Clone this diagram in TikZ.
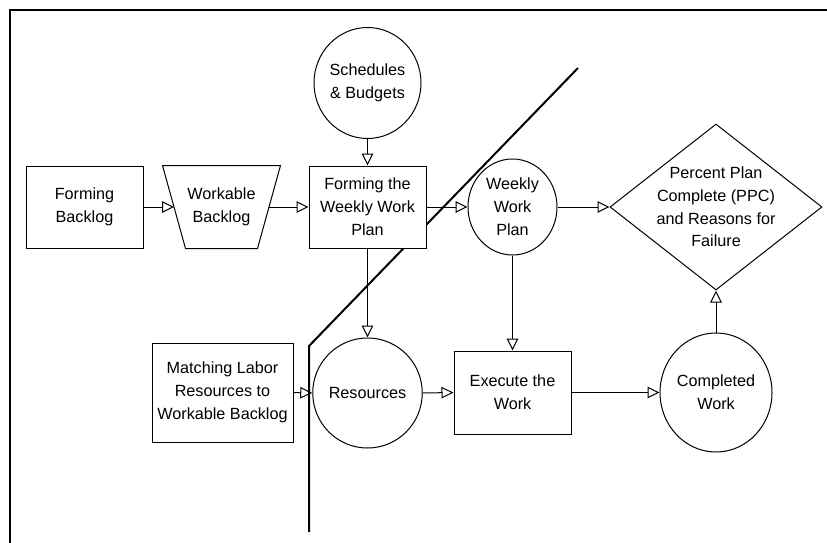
\documentclass[tikz,border=0pt]{standalone}
\usepackage{fontspec}
\setmainfont{Liberation Sans}
\usetikzlibrary{arrows.meta,shapes.geometric}

\begin{document}
\begin{tikzpicture}[x=1pt,y=-1pt,
  every node/.style={font=\fontsize{16.2pt}{22.8pt}\selectfont, align=center,
    draw, line width=1pt, fill=white, inner sep=0pt},
  boxnode/.style={rectangle},
  roundnode/.style={ellipse},
  flow/.style={line width=1pt, -{Triangle[open,length=12pt,width=11.5pt]}},
  divider/.style={line width=2pt}]
\useasboundingbox (0,0) rectangle (827,543);

% outer frame
\draw[divider] (10,543) -- (10,10) -- (827,10);

% dividing line between planning and execution
\coordinate (d1) at (578,68);
\coordinate (d2) at (309,346);
\coordinate (d3) at (309,532);
\draw[divider] (d1) -- (d2) -- (d3);

% nodes
\node[boxnode, minimum width=117pt, minimum height=82pt] (fb) at (84.5,207) {Forming\\Backlog};
% workable backlog: inverted trapezoid; the node spans its mid-width
\node[boxnode, draw=none, fill=none, minimum width=94pt, minimum height=82pt] (wb) at (221.5,207) {};
\draw[line width=1pt, fill=white]
  ([xshift=-11.5pt]wb.north west) -- ([xshift=11.5pt]wb.north east) --
  ([xshift=-11.5pt]wb.south east) -- ([xshift=11.5pt]wb.south west) -- cycle;
\node[draw=none, fill=none] at (wb) {Workable\\Backlog};
\node[boxnode, minimum width=117pt, minimum height=82pt] (fw) at (367.5,207) {Forming the\\Weekly Work\\Plan};
\node[roundnode, minimum width=107pt, minimum height=111pt] (sb) at (367.5,83) {Schedules\\\& Budgets};
\node[roundnode, minimum width=89pt, minimum height=96pt] (wwp) at (512.5,207) {Weekly\\Work\\Plan};
\node[diamond, minimum width=212pt, minimum height=166pt,
      label={[draw=none, fill=none, align=center]center:Percent Plan\\Complete (PPC)\\and Reasons for\\Failure}] (ppc) at (716,207) {};
\node[boxnode, minimum width=141pt, minimum height=99pt] (ml) at (222.5,392.5) {Matching Labor\\Resources to\\Workable Backlog};
\node[roundnode, minimum width=103pt, minimum height=110pt] (res) at (367.5,393) {Resources};
\node[boxnode, minimum width=117pt, minimum height=83pt] (ex) at (512.5,392.5) {Execute the\\Work};
\node[roundnode, minimum width=112pt, minimum height=119pt] (cw) at (716,392.5) {Completed\\Work};

% connectors
\draw[flow] (fb.east) -- (wb.west);
\draw[flow] (wb.east) -- (fw.west);
\draw[flow] (sb.south) -- (fw.north);
\draw[flow] (fw.east) -- (wwp.west);
\draw[flow] (wwp.east) -- (ppc.west);
\draw[flow] (fw.south) -- (res.north);
\draw[flow] (ml.east) -- (res.west);
\draw[flow] (res.east) -- (ex.west);
\draw[flow] (wwp.south) -- (ex.north);
\draw[flow] (ex.east) -- (cw.west);
\draw[flow] (cw.north) -- (ppc.south);
\end{tikzpicture}
\end{document}
